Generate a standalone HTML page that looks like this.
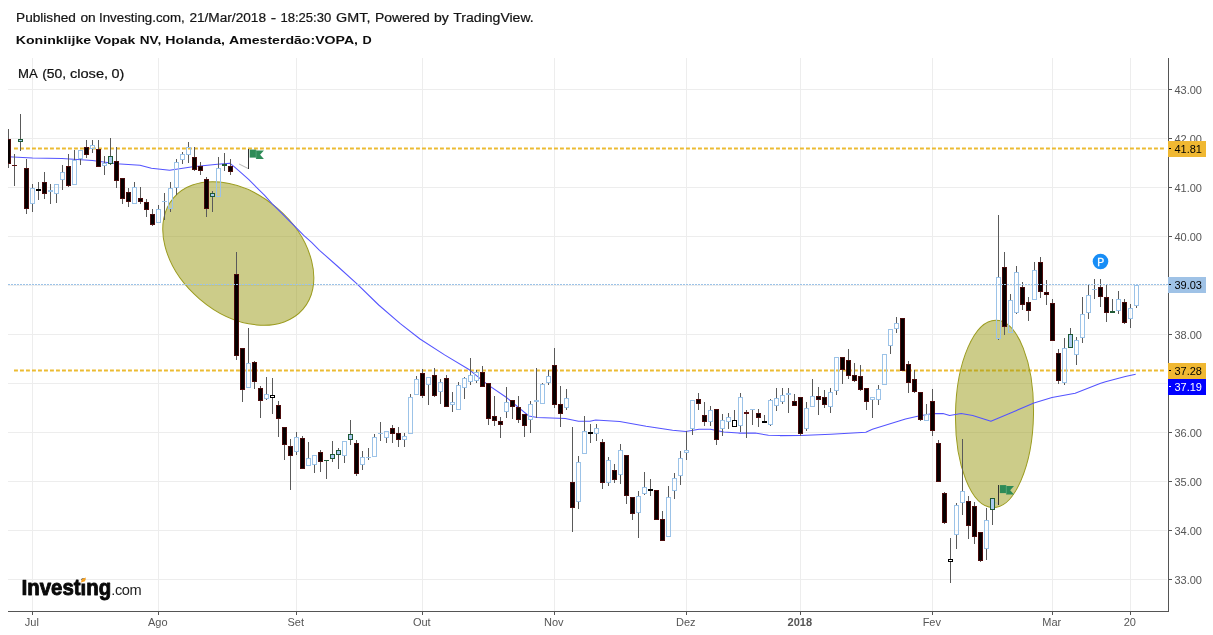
<!DOCTYPE html>
<html lang="pt"><head><meta charset="utf-8"><title>Koninklijke Vopak NV, Holanda, Amesterdão:VOPA, D</title>
<style>
html,body{margin:0;padding:0;background:#fff;}
body{width:1213px;height:635px;overflow:hidden;position:relative;}
svg{position:absolute;left:0;top:0;display:block;}
text{font-family:"Liberation Sans",Arial,Helvetica,sans-serif;}
.ax{font-size:11px;fill:#555555;}
.tag{font-size:11px;}
.h1{font-size:12.3px;fill:#141414;stroke:#141414;stroke-width:0.2px;}
.h2{font-size:11.6px;font-weight:bold;fill:#0c0c0c;}
.ma{font-size:12px;fill:#111;stroke:#111;stroke-width:0.2px;}
.crisp{shape-rendering:crispEdges;}
</style></head><body>
<svg width="1213" height="635" viewBox="0 0 1213 635">
<rect width="1213" height="635" fill="#fff"/>
<defs><clipPath id="pane"><rect x="8" y="58" width="1160" height="553"/></clipPath></defs>
<g class="crisp" stroke="#ededed" stroke-width="1" fill="none">
<line x1="8" y1="579.5" x2="1167" y2="579.5"/>
<line x1="8" y1="530.5" x2="1167" y2="530.5"/>
<line x1="8" y1="481.5" x2="1167" y2="481.5"/>
<line x1="8" y1="432.5" x2="1167" y2="432.5"/>
<line x1="8" y1="383.5" x2="1167" y2="383.5"/>
<line x1="8" y1="334.5" x2="1167" y2="334.5"/>
<line x1="8" y1="285.5" x2="1167" y2="285.5"/>
<line x1="8" y1="236.5" x2="1167" y2="236.5"/>
<line x1="8" y1="187.5" x2="1167" y2="187.5"/>
<line x1="8" y1="138.5" x2="1167" y2="138.5"/>
<line x1="8" y1="89.5" x2="1167" y2="89.5"/>
<line x1="32.5" y1="58" x2="32.5" y2="611"/>
<line x1="158.5" y1="58" x2="158.5" y2="611"/>
<line x1="296.5" y1="58" x2="296.5" y2="611"/>
<line x1="422.5" y1="58" x2="422.5" y2="611"/>
<line x1="554.5" y1="58" x2="554.5" y2="611"/>
<line x1="686.5" y1="58" x2="686.5" y2="611"/>
<line x1="800.5" y1="58" x2="800.5" y2="611"/>
<line x1="932.5" y1="58" x2="932.5" y2="611"/>
<line x1="1052.5" y1="58" x2="1052.5" y2="611"/>
<line x1="1130.5" y1="58" x2="1130.5" y2="611"/>
</g>
<g fill="none" stroke="#ecbb32" stroke-width="2" stroke-dasharray="3.9 2.1">
<line x1="14" y1="148.5" x2="1166" y2="148.5"/>
<line x1="14" y1="370.5" x2="1166" y2="370.5"/>
</g>
<g clip-path="url(#pane)">
<ellipse cx="238.3" cy="253.5" rx="85.4" ry="59.7" transform="rotate(40.7 238.3 253.5)" fill="rgba(153,153,20,0.5)" stroke="#9b9b1e" stroke-width="1"/>
<ellipse cx="994.5" cy="413.9" rx="39" ry="93.7" transform="rotate(1 994.5 413.9)" fill="rgba(153,153,20,0.5)" stroke="#9b9b1e" stroke-width="1"/>
<polyline points="8.0,156.8 32.5,158.0 62.0,158.4 92.5,160.4 116.5,163.7 140.0,165.2 151.4,168.3 169.6,170.2 192.7,166.7 217.5,164.2 229.7,163.2 234.4,166.8 240.7,172.3 248.6,179.4 256.5,187.3 264.4,195.2 272.2,203.8 280.1,211.7 288.0,219.6 295.9,227.4 303.7,235.3 311.6,242.4 319.5,250.3 337.8,266.5 357.0,283.8 378.7,305.0 400.0,323.4 420.0,339.0 444.6,354.9 469.4,369.8 487.6,384.6 505.8,397.0 519.0,407.8 528.9,416.0 537.2,417.4 565.3,418.5 578.5,421.3 590.0,421.3 595.7,420.1 619.7,421.4 646.1,426.2 672.6,430.3 685.8,431.5 699.0,429.2 710.6,429.2 723.8,432.0 738.7,433.1 755.2,433.1 768.4,435.3 780.0,435.6 800.5,435.5 831.0,434.2 865.8,432.2 872.4,429.3 905.5,419.0 918.7,416.0 933.0,413.6 943.0,413.6 949.6,415.5 961.2,413.6 972.7,415.5 990.9,421.3 1012.4,412.2 1033.9,403.1 1052.0,397.4 1075.2,393.2 1100.0,383.6 1105.5,381.7 1125.3,376.4 1135.7,374.3" fill="none" stroke="#5454ff" stroke-width="1.05" stroke-linejoin="round"/>
<line x1="239.1" y1="164.0" x2="248.1" y2="168.5" stroke="#b5b5b5" stroke-width="1"/>
<line x1="989.2" y1="499.5" x2="998.2" y2="504.0" stroke="#b5b5b5" stroke-width="1"/>
<g class="crisp">
<rect x="8" y="129" width="1" height="39" fill="#5a5a5a"/>
<rect x="6" y="139" width="5" height="25" fill="#4a0b0b"/>
<rect x="7" y="140" width="3" height="23" fill="#050000"/>
<rect x="14" y="154" width="1" height="32" fill="#5a5a5a"/>
<rect x="12" y="165" width="5" height="1" fill="#5a1010"/>
<rect x="20" y="114" width="1" height="25" fill="#5a5a5a"/>
<rect x="20" y="142" width="1" height="9" fill="#5a5a5a"/>
<rect x="18.5" y="139.5" width="4" height="2" fill="#a9c9ef" stroke="#1f5a36" stroke-width="1"/>
<rect x="26" y="159" width="1" height="55" fill="#5a5a5a"/>
<rect x="24" y="168" width="5" height="41" fill="#4a0b0b"/>
<rect x="25" y="169" width="3" height="39" fill="#050000"/>
<rect x="32" y="184" width="1" height="4" fill="#5a5a5a"/>
<rect x="32" y="204" width="1" height="8" fill="#5a5a5a"/>
<rect x="30.5" y="188.5" width="4" height="15" fill="none" stroke="#9cc3e8" stroke-width="1"/>
<rect x="38" y="182" width="1" height="18" fill="#5a5a5a"/>
<rect x="36" y="189" width="5" height="2" fill="#000"/>
<rect x="44" y="172" width="1" height="27" fill="#5a5a5a"/>
<rect x="42" y="182" width="5" height="12" fill="#4a0b0b"/>
<rect x="43" y="183" width="3" height="10" fill="#050000"/>
<rect x="50" y="184" width="1" height="20" fill="#5a5a5a"/>
<rect x="48" y="190" width="5" height="2" fill="#9cc3e8"/>
<rect x="56" y="194" width="1" height="9" fill="#5a5a5a"/>
<rect x="54.5" y="184.5" width="4" height="9" fill="none" stroke="#9cc3e8" stroke-width="1"/>
<rect x="62" y="165" width="1" height="7" fill="#5a5a5a"/>
<rect x="62" y="180" width="1" height="10" fill="#5a5a5a"/>
<rect x="60.5" y="172.5" width="4" height="7" fill="none" stroke="#9cc3e8" stroke-width="1"/>
<rect x="68" y="154" width="1" height="33" fill="#5a5a5a"/>
<rect x="66" y="166" width="5" height="20" fill="#4a0b0b"/>
<rect x="67" y="167" width="3" height="18" fill="#050000"/>
<rect x="74" y="150" width="1" height="10" fill="#5a5a5a"/>
<rect x="72.5" y="160.5" width="4" height="24" fill="none" stroke="#9cc3e8" stroke-width="1"/>
<rect x="80" y="159" width="1" height="6" fill="#5a5a5a"/>
<rect x="78.5" y="150.5" width="4" height="8" fill="none" stroke="#9cc3e8" stroke-width="1"/>
<rect x="86" y="140" width="1" height="18" fill="#5a5a5a"/>
<rect x="84" y="147" width="5" height="8" fill="#4a0b0b"/>
<rect x="85" y="148" width="3" height="6" fill="#050000"/>
<rect x="92" y="140" width="1" height="5" fill="#5a5a5a"/>
<rect x="92" y="149" width="1" height="4" fill="#5a5a5a"/>
<rect x="90.5" y="145.5" width="4" height="3" fill="none" stroke="#9cc3e8" stroke-width="1"/>
<rect x="98" y="140" width="1" height="27" fill="#5a5a5a"/>
<rect x="96" y="149" width="5" height="18" fill="#4a0b0b"/>
<rect x="97" y="150" width="3" height="16" fill="#050000"/>
<rect x="104" y="156" width="1" height="7" fill="#5a5a5a"/>
<rect x="104" y="166" width="1" height="9" fill="#5a5a5a"/>
<rect x="102.5" y="163.5" width="4" height="2" fill="none" stroke="#9cc3e8" stroke-width="1"/>
<rect x="110" y="138" width="1" height="18" fill="#5a5a5a"/>
<rect x="110" y="164" width="1" height="1" fill="#5a5a5a"/>
<rect x="108.5" y="156.5" width="4" height="7" fill="#a9c9ef" stroke="#1f5a36" stroke-width="1"/>
<rect x="116" y="147" width="1" height="41" fill="#5a5a5a"/>
<rect x="114" y="161" width="5" height="20" fill="#4a0b0b"/>
<rect x="115" y="162" width="3" height="18" fill="#050000"/>
<rect x="122" y="178" width="1" height="26" fill="#5a5a5a"/>
<rect x="120" y="178" width="5" height="21" fill="#4a0b0b"/>
<rect x="121" y="179" width="3" height="19" fill="#050000"/>
<rect x="128" y="188" width="1" height="19" fill="#5a5a5a"/>
<rect x="126" y="192" width="5" height="10" fill="#4a0b0b"/>
<rect x="127" y="193" width="3" height="8" fill="#050000"/>
<rect x="134" y="182" width="1" height="5" fill="#5a5a5a"/>
<rect x="132.5" y="187.5" width="4" height="16" fill="none" stroke="#9cc3e8" stroke-width="1"/>
<rect x="140" y="187" width="1" height="17" fill="#5a5a5a"/>
<rect x="138" y="198" width="5" height="4" fill="#4a0b0b"/>
<rect x="139" y="199" width="3" height="2" fill="#050000"/>
<rect x="146" y="199" width="1" height="18" fill="#5a5a5a"/>
<rect x="144" y="202" width="5" height="8" fill="#4a0b0b"/>
<rect x="145" y="203" width="3" height="6" fill="#050000"/>
<rect x="152" y="209" width="1" height="17" fill="#5a5a5a"/>
<rect x="150" y="214" width="5" height="11" fill="#4a0b0b"/>
<rect x="151" y="215" width="3" height="9" fill="#050000"/>
<rect x="158" y="205" width="1" height="4" fill="#5a5a5a"/>
<rect x="156.5" y="209.5" width="4" height="13" fill="none" stroke="#9cc3e8" stroke-width="1"/>
<rect x="164" y="193" width="1" height="27" fill="#5a5a5a"/>
<rect x="162" y="201" width="5" height="1" fill="#9cc3e8"/>
<rect x="170" y="182" width="1" height="6" fill="#5a5a5a"/>
<rect x="170" y="209" width="1" height="3" fill="#5a5a5a"/>
<rect x="168.5" y="188.5" width="4" height="20" fill="none" stroke="#9cc3e8" stroke-width="1"/>
<rect x="176" y="159" width="1" height="3" fill="#5a5a5a"/>
<rect x="176" y="188" width="1" height="7" fill="#5a5a5a"/>
<rect x="174.5" y="162.5" width="4" height="25" fill="none" stroke="#9cc3e8" stroke-width="1"/>
<rect x="182" y="152" width="1" height="2" fill="#5a5a5a"/>
<rect x="182" y="160" width="1" height="4" fill="#5a5a5a"/>
<rect x="180.5" y="154.5" width="4" height="5" fill="none" stroke="#9cc3e8" stroke-width="1"/>
<rect x="188" y="142" width="1" height="5" fill="#5a5a5a"/>
<rect x="188" y="155" width="1" height="8" fill="#5a5a5a"/>
<rect x="186.5" y="147.5" width="4" height="7" fill="none" stroke="#9cc3e8" stroke-width="1"/>
<rect x="194" y="147" width="1" height="24" fill="#5a5a5a"/>
<rect x="192" y="157" width="5" height="13" fill="#4a0b0b"/>
<rect x="193" y="158" width="3" height="11" fill="#050000"/>
<rect x="200" y="162" width="1" height="13" fill="#5a5a5a"/>
<rect x="198" y="166" width="5" height="5" fill="#4a0b0b"/>
<rect x="199" y="167" width="3" height="3" fill="#050000"/>
<rect x="206" y="177" width="1" height="40" fill="#5a5a5a"/>
<rect x="204" y="179" width="5" height="30" fill="#4a0b0b"/>
<rect x="205" y="180" width="3" height="28" fill="#050000"/>
<rect x="212" y="191" width="1" height="2" fill="#5a5a5a"/>
<rect x="212" y="197" width="1" height="15" fill="#5a5a5a"/>
<rect x="210.5" y="193.5" width="4" height="3" fill="#a9c9ef" stroke="#1f5a36" stroke-width="1"/>
<rect x="218" y="157" width="1" height="11" fill="#5a5a5a"/>
<rect x="216.5" y="168.5" width="4" height="28" fill="none" stroke="#9cc3e8" stroke-width="1"/>
<rect x="224" y="153" width="1" height="18" fill="#5a5a5a"/>
<rect x="222" y="164" width="5" height="2" fill="#1f5a36"/>
<rect x="230" y="159" width="1" height="16" fill="#5a5a5a"/>
<rect x="228" y="166" width="5" height="6" fill="#4a0b0b"/>
<rect x="229" y="167" width="3" height="4" fill="#050000"/>
<rect x="236" y="252" width="1" height="108" fill="#5a5a5a"/>
<rect x="234" y="274" width="5" height="82" fill="#4a0b0b"/>
<rect x="235" y="275" width="3" height="80" fill="#050000"/>
<rect x="242" y="348" width="1" height="54" fill="#5a5a5a"/>
<rect x="240" y="348" width="5" height="42" fill="#4a0b0b"/>
<rect x="241" y="349" width="3" height="40" fill="#050000"/>
<rect x="248" y="328" width="1" height="35" fill="#5a5a5a"/>
<rect x="246.5" y="363.5" width="4" height="24" fill="none" stroke="#9cc3e8" stroke-width="1"/>
<rect x="254" y="361" width="1" height="28" fill="#5a5a5a"/>
<rect x="252" y="362" width="5" height="20" fill="#4a0b0b"/>
<rect x="253" y="363" width="3" height="18" fill="#050000"/>
<rect x="260" y="386" width="1" height="32" fill="#5a5a5a"/>
<rect x="258" y="388" width="5" height="13" fill="#4a0b0b"/>
<rect x="259" y="389" width="3" height="11" fill="#050000"/>
<rect x="266" y="377" width="1" height="17" fill="#5a5a5a"/>
<rect x="266" y="399" width="1" height="1" fill="#5a5a5a"/>
<rect x="264.5" y="394.5" width="4" height="4" fill="none" stroke="#9cc3e8" stroke-width="1"/>
<rect x="272" y="378" width="1" height="17" fill="#5a5a5a"/>
<rect x="272" y="398" width="1" height="16" fill="#5a5a5a"/>
<rect x="270.5" y="395.5" width="4" height="2" fill="#fff" stroke="#000" stroke-width="1"/>
<rect x="278" y="401" width="1" height="36" fill="#5a5a5a"/>
<rect x="276" y="405" width="5" height="14" fill="#4a0b0b"/>
<rect x="277" y="406" width="3" height="12" fill="#050000"/>
<rect x="284" y="427" width="1" height="33" fill="#5a5a5a"/>
<rect x="282" y="427" width="5" height="18" fill="#4a0b0b"/>
<rect x="283" y="428" width="3" height="16" fill="#050000"/>
<rect x="290" y="439" width="1" height="51" fill="#5a5a5a"/>
<rect x="288" y="446" width="5" height="10" fill="#4a0b0b"/>
<rect x="289" y="447" width="3" height="8" fill="#050000"/>
<rect x="296" y="432" width="1" height="5" fill="#5a5a5a"/>
<rect x="296" y="452" width="1" height="3" fill="#5a5a5a"/>
<rect x="294.5" y="437.5" width="4" height="14" fill="none" stroke="#9cc3e8" stroke-width="1"/>
<rect x="302" y="436" width="1" height="33" fill="#5a5a5a"/>
<rect x="300" y="438" width="5" height="31" fill="#4a0b0b"/>
<rect x="301" y="439" width="3" height="29" fill="#050000"/>
<rect x="308" y="442" width="1" height="16" fill="#5a5a5a"/>
<rect x="306.5" y="458.5" width="4" height="7" fill="none" stroke="#9cc3e8" stroke-width="1"/>
<rect x="314" y="465" width="1" height="8" fill="#5a5a5a"/>
<rect x="312.5" y="455.5" width="4" height="9" fill="none" stroke="#9cc3e8" stroke-width="1"/>
<rect x="320" y="450" width="1" height="22" fill="#5a5a5a"/>
<rect x="318" y="452" width="5" height="10" fill="#4a0b0b"/>
<rect x="319" y="453" width="3" height="8" fill="#050000"/>
<rect x="326" y="460" width="1" height="19" fill="#5a5a5a"/>
<rect x="324" y="460" width="5" height="1" fill="#1f5a36"/>
<rect x="332" y="441" width="1" height="13" fill="#5a5a5a"/>
<rect x="332" y="459" width="1" height="3" fill="#5a5a5a"/>
<rect x="330.5" y="454.5" width="4" height="4" fill="#a9c9ef" stroke="#1f5a36" stroke-width="1"/>
<rect x="338" y="448" width="1" height="2" fill="#5a5a5a"/>
<rect x="338" y="455" width="1" height="14" fill="#5a5a5a"/>
<rect x="336.5" y="450.5" width="4" height="4" fill="#a9c9ef" stroke="#1f5a36" stroke-width="1"/>
<rect x="344" y="456" width="1" height="7" fill="#5a5a5a"/>
<rect x="342.5" y="441.5" width="4" height="14" fill="none" stroke="#9cc3e8" stroke-width="1"/>
<rect x="350" y="420" width="1" height="14" fill="#5a5a5a"/>
<rect x="350" y="440" width="1" height="5" fill="#5a5a5a"/>
<rect x="348.5" y="434.5" width="4" height="5" fill="#a9c9ef" stroke="#1f5a36" stroke-width="1"/>
<rect x="356" y="440" width="1" height="36" fill="#5a5a5a"/>
<rect x="354" y="443" width="5" height="31" fill="#4a0b0b"/>
<rect x="355" y="444" width="3" height="29" fill="#050000"/>
<rect x="362" y="451" width="1" height="6" fill="#5a5a5a"/>
<rect x="362" y="465" width="1" height="5" fill="#5a5a5a"/>
<rect x="360.5" y="457.5" width="4" height="7" fill="none" stroke="#9cc3e8" stroke-width="1"/>
<rect x="368" y="448" width="1" height="12" fill="#5a5a5a"/>
<rect x="366" y="457" width="5" height="1" fill="#9cc3e8"/>
<rect x="374" y="434" width="1" height="3" fill="#5a5a5a"/>
<rect x="372.5" y="437.5" width="4" height="19" fill="none" stroke="#9cc3e8" stroke-width="1"/>
<rect x="380" y="422" width="1" height="19" fill="#5a5a5a"/>
<rect x="378" y="433" width="5" height="1" fill="#9cc3e8"/>
<rect x="386" y="438" width="1" height="5" fill="#5a5a5a"/>
<rect x="384.5" y="431.5" width="4" height="6" fill="none" stroke="#9cc3e8" stroke-width="1"/>
<rect x="392" y="425" width="1" height="18" fill="#5a5a5a"/>
<rect x="390" y="428" width="5" height="6" fill="#4a0b0b"/>
<rect x="391" y="429" width="3" height="4" fill="#050000"/>
<rect x="398" y="427" width="1" height="20" fill="#5a5a5a"/>
<rect x="396" y="433" width="5" height="7" fill="#4a0b0b"/>
<rect x="397" y="434" width="3" height="5" fill="#050000"/>
<rect x="404" y="433" width="1" height="3" fill="#5a5a5a"/>
<rect x="404" y="440" width="1" height="7" fill="#5a5a5a"/>
<rect x="402.5" y="436.5" width="4" height="3" fill="none" stroke="#9cc3e8" stroke-width="1"/>
<rect x="410" y="394" width="1" height="3" fill="#5a5a5a"/>
<rect x="408.5" y="397.5" width="4" height="36" fill="none" stroke="#9cc3e8" stroke-width="1"/>
<rect x="416" y="376" width="1" height="3" fill="#5a5a5a"/>
<rect x="414.5" y="379.5" width="4" height="15" fill="none" stroke="#9cc3e8" stroke-width="1"/>
<rect x="422" y="369" width="1" height="29" fill="#5a5a5a"/>
<rect x="420" y="373" width="5" height="23" fill="#4a0b0b"/>
<rect x="421" y="374" width="3" height="21" fill="#050000"/>
<rect x="428" y="385" width="1" height="20" fill="#5a5a5a"/>
<rect x="426.5" y="377.5" width="4" height="7" fill="none" stroke="#9cc3e8" stroke-width="1"/>
<rect x="434" y="368" width="1" height="29" fill="#5a5a5a"/>
<rect x="432" y="375" width="5" height="21" fill="#4a0b0b"/>
<rect x="433" y="376" width="3" height="19" fill="#050000"/>
<rect x="440" y="379" width="1" height="3" fill="#5a5a5a"/>
<rect x="440" y="392" width="1" height="12" fill="#5a5a5a"/>
<rect x="438.5" y="382.5" width="4" height="9" fill="none" stroke="#9cc3e8" stroke-width="1"/>
<rect x="446" y="375" width="1" height="32" fill="#5a5a5a"/>
<rect x="444" y="378" width="5" height="29" fill="#4a0b0b"/>
<rect x="445" y="379" width="3" height="27" fill="#050000"/>
<rect x="452" y="392" width="1" height="10" fill="#5a5a5a"/>
<rect x="452" y="405" width="1" height="7" fill="#5a5a5a"/>
<rect x="450.5" y="402.5" width="4" height="2" fill="none" stroke="#9cc3e8" stroke-width="1"/>
<rect x="458" y="382" width="1" height="3" fill="#5a5a5a"/>
<rect x="456.5" y="385.5" width="4" height="24" fill="none" stroke="#9cc3e8" stroke-width="1"/>
<rect x="464" y="377" width="1" height="1" fill="#5a5a5a"/>
<rect x="464" y="388" width="1" height="11" fill="#5a5a5a"/>
<rect x="462.5" y="378.5" width="4" height="9" fill="none" stroke="#9cc3e8" stroke-width="1"/>
<rect x="470" y="358" width="1" height="17" fill="#5a5a5a"/>
<rect x="470" y="382" width="1" height="3" fill="#5a5a5a"/>
<rect x="468.5" y="375.5" width="4" height="6" fill="none" stroke="#9cc3e8" stroke-width="1"/>
<rect x="476" y="370" width="1" height="2" fill="#5a5a5a"/>
<rect x="476" y="381" width="1" height="2" fill="#5a5a5a"/>
<rect x="474.5" y="372.5" width="4" height="8" fill="none" stroke="#9cc3e8" stroke-width="1"/>
<rect x="482" y="366" width="1" height="21" fill="#5a5a5a"/>
<rect x="480" y="372" width="5" height="15" fill="#4a0b0b"/>
<rect x="481" y="373" width="3" height="13" fill="#050000"/>
<rect x="488" y="383" width="1" height="42" fill="#5a5a5a"/>
<rect x="486" y="383" width="5" height="36" fill="#4a0b0b"/>
<rect x="487" y="384" width="3" height="34" fill="#050000"/>
<rect x="494" y="396" width="1" height="30" fill="#5a5a5a"/>
<rect x="492" y="416" width="5" height="5" fill="#4a0b0b"/>
<rect x="493" y="417" width="3" height="3" fill="#050000"/>
<rect x="500" y="417" width="1" height="21" fill="#5a5a5a"/>
<rect x="498" y="421" width="5" height="4" fill="#4a0b0b"/>
<rect x="499" y="422" width="3" height="2" fill="#050000"/>
<rect x="506" y="387" width="1" height="15" fill="#5a5a5a"/>
<rect x="506" y="412" width="1" height="6" fill="#5a5a5a"/>
<rect x="504.5" y="402.5" width="4" height="9" fill="none" stroke="#9cc3e8" stroke-width="1"/>
<rect x="512" y="400" width="1" height="19" fill="#5a5a5a"/>
<rect x="510" y="400" width="5" height="7" fill="#4a0b0b"/>
<rect x="511" y="401" width="3" height="5" fill="#050000"/>
<rect x="518" y="396" width="1" height="27" fill="#5a5a5a"/>
<rect x="516" y="407" width="5" height="13" fill="#4a0b0b"/>
<rect x="517" y="408" width="3" height="11" fill="#050000"/>
<rect x="524" y="414" width="1" height="23" fill="#5a5a5a"/>
<rect x="522" y="414" width="5" height="12" fill="#4a0b0b"/>
<rect x="523" y="415" width="3" height="10" fill="#050000"/>
<rect x="530" y="401" width="1" height="3" fill="#5a5a5a"/>
<rect x="530" y="420" width="1" height="13" fill="#5a5a5a"/>
<rect x="528.5" y="404.5" width="4" height="15" fill="none" stroke="#9cc3e8" stroke-width="1"/>
<rect x="536" y="368" width="1" height="50" fill="#5a5a5a"/>
<rect x="534" y="400" width="5" height="2" fill="#9cc3e8"/>
<rect x="542" y="383" width="1" height="1" fill="#5a5a5a"/>
<rect x="540.5" y="384.5" width="4" height="19" fill="none" stroke="#9cc3e8" stroke-width="1"/>
<rect x="548" y="370" width="1" height="6" fill="#5a5a5a"/>
<rect x="548" y="383" width="1" height="2" fill="#5a5a5a"/>
<rect x="546.5" y="376.5" width="4" height="6" fill="none" stroke="#9cc3e8" stroke-width="1"/>
<rect x="554" y="348" width="1" height="60" fill="#5a5a5a"/>
<rect x="552" y="365" width="5" height="40" fill="#4a0b0b"/>
<rect x="553" y="366" width="3" height="38" fill="#050000"/>
<rect x="560" y="386" width="1" height="41" fill="#5a5a5a"/>
<rect x="558" y="404" width="5" height="10" fill="#4a0b0b"/>
<rect x="559" y="405" width="3" height="8" fill="#050000"/>
<rect x="566" y="389" width="1" height="9" fill="#5a5a5a"/>
<rect x="566" y="408" width="1" height="2" fill="#5a5a5a"/>
<rect x="564.5" y="398.5" width="4" height="9" fill="none" stroke="#9cc3e8" stroke-width="1"/>
<rect x="572" y="427" width="1" height="105" fill="#5a5a5a"/>
<rect x="570" y="482" width="5" height="26" fill="#4a0b0b"/>
<rect x="571" y="483" width="3" height="24" fill="#050000"/>
<rect x="578" y="456" width="1" height="6" fill="#5a5a5a"/>
<rect x="578" y="502" width="1" height="7" fill="#5a5a5a"/>
<rect x="576.5" y="462.5" width="4" height="39" fill="none" stroke="#9cc3e8" stroke-width="1"/>
<rect x="584" y="416" width="1" height="15" fill="#5a5a5a"/>
<rect x="582.5" y="431.5" width="4" height="22" fill="none" stroke="#9cc3e8" stroke-width="1"/>
<rect x="590" y="424" width="1" height="19" fill="#5a5a5a"/>
<rect x="588" y="432" width="5" height="2" fill="#000"/>
<rect x="596" y="424" width="1" height="4" fill="#5a5a5a"/>
<rect x="596" y="434" width="1" height="7" fill="#5a5a5a"/>
<rect x="594.5" y="428.5" width="4" height="5" fill="none" stroke="#9cc3e8" stroke-width="1"/>
<rect x="602" y="439" width="1" height="50" fill="#5a5a5a"/>
<rect x="600" y="442" width="5" height="41" fill="#4a0b0b"/>
<rect x="601" y="443" width="3" height="39" fill="#050000"/>
<rect x="608" y="457" width="1" height="3" fill="#5a5a5a"/>
<rect x="608" y="483" width="1" height="3" fill="#5a5a5a"/>
<rect x="606.5" y="460.5" width="4" height="22" fill="none" stroke="#9cc3e8" stroke-width="1"/>
<rect x="614" y="464" width="1" height="19" fill="#5a5a5a"/>
<rect x="612" y="470" width="5" height="10" fill="#4a0b0b"/>
<rect x="613" y="471" width="3" height="8" fill="#050000"/>
<rect x="620" y="444" width="1" height="6" fill="#5a5a5a"/>
<rect x="620" y="475" width="1" height="9" fill="#5a5a5a"/>
<rect x="618.5" y="450.5" width="4" height="24" fill="none" stroke="#9cc3e8" stroke-width="1"/>
<rect x="626" y="455" width="1" height="49" fill="#5a5a5a"/>
<rect x="624" y="455" width="5" height="41" fill="#4a0b0b"/>
<rect x="625" y="456" width="3" height="39" fill="#050000"/>
<rect x="632" y="497" width="1" height="23" fill="#5a5a5a"/>
<rect x="630" y="497" width="5" height="17" fill="#4a0b0b"/>
<rect x="631" y="498" width="3" height="15" fill="#050000"/>
<rect x="638" y="491" width="1" height="5" fill="#5a5a5a"/>
<rect x="638" y="513" width="1" height="25" fill="#5a5a5a"/>
<rect x="636.5" y="496.5" width="4" height="16" fill="none" stroke="#9cc3e8" stroke-width="1"/>
<rect x="644" y="472" width="1" height="15" fill="#5a5a5a"/>
<rect x="644" y="494" width="1" height="1" fill="#5a5a5a"/>
<rect x="642.5" y="487.5" width="4" height="6" fill="none" stroke="#9cc3e8" stroke-width="1"/>
<rect x="650" y="479" width="1" height="17" fill="#5a5a5a"/>
<rect x="648" y="489" width="5" height="2" fill="#000"/>
<rect x="656" y="490" width="1" height="30" fill="#5a5a5a"/>
<rect x="654" y="490" width="5" height="30" fill="#4a0b0b"/>
<rect x="655" y="491" width="3" height="28" fill="#050000"/>
<rect x="662" y="511" width="1" height="30" fill="#5a5a5a"/>
<rect x="660" y="519" width="5" height="22" fill="#4a0b0b"/>
<rect x="661" y="520" width="3" height="20" fill="#050000"/>
<rect x="668" y="486" width="1" height="11" fill="#5a5a5a"/>
<rect x="666.5" y="497.5" width="4" height="39" fill="none" stroke="#9cc3e8" stroke-width="1"/>
<rect x="674" y="473" width="1" height="5" fill="#5a5a5a"/>
<rect x="674" y="491" width="1" height="8" fill="#5a5a5a"/>
<rect x="672.5" y="478.5" width="4" height="12" fill="none" stroke="#9cc3e8" stroke-width="1"/>
<rect x="680" y="451" width="1" height="7" fill="#5a5a5a"/>
<rect x="680" y="476" width="1" height="9" fill="#5a5a5a"/>
<rect x="678.5" y="458.5" width="4" height="17" fill="none" stroke="#9cc3e8" stroke-width="1"/>
<rect x="686" y="431" width="1" height="19" fill="#5a5a5a"/>
<rect x="686" y="453" width="1" height="7" fill="#5a5a5a"/>
<rect x="684.5" y="450.5" width="4" height="2" fill="none" stroke="#9cc3e8" stroke-width="1"/>
<rect x="692" y="429" width="1" height="6" fill="#5a5a5a"/>
<rect x="690.5" y="400.5" width="4" height="28" fill="none" stroke="#9cc3e8" stroke-width="1"/>
<rect x="698" y="393" width="1" height="17" fill="#5a5a5a"/>
<rect x="696" y="399" width="5" height="5" fill="#4a0b0b"/>
<rect x="697" y="400" width="3" height="3" fill="#050000"/>
<rect x="704" y="402" width="1" height="24" fill="#5a5a5a"/>
<rect x="702" y="415" width="5" height="7" fill="#4a0b0b"/>
<rect x="703" y="416" width="3" height="5" fill="#050000"/>
<rect x="710" y="406" width="1" height="4" fill="#5a5a5a"/>
<rect x="710" y="422" width="1" height="4" fill="#5a5a5a"/>
<rect x="708.5" y="410.5" width="4" height="11" fill="none" stroke="#9cc3e8" stroke-width="1"/>
<rect x="716" y="409" width="1" height="36" fill="#5a5a5a"/>
<rect x="714" y="409" width="5" height="31" fill="#4a0b0b"/>
<rect x="715" y="410" width="3" height="29" fill="#050000"/>
<rect x="722" y="414" width="1" height="6" fill="#5a5a5a"/>
<rect x="722" y="429" width="1" height="7" fill="#5a5a5a"/>
<rect x="720.5" y="420.5" width="4" height="8" fill="none" stroke="#9cc3e8" stroke-width="1"/>
<rect x="728" y="413" width="1" height="4" fill="#5a5a5a"/>
<rect x="728" y="422" width="1" height="7" fill="#5a5a5a"/>
<rect x="726.5" y="417.5" width="4" height="4" fill="none" stroke="#9cc3e8" stroke-width="1"/>
<rect x="734" y="410" width="1" height="10" fill="#5a5a5a"/>
<rect x="732.5" y="420.5" width="4" height="6" fill="#fff" stroke="#000" stroke-width="1"/>
<rect x="740" y="393" width="1" height="4" fill="#5a5a5a"/>
<rect x="740" y="426" width="1" height="6" fill="#5a5a5a"/>
<rect x="738.5" y="397.5" width="4" height="28" fill="none" stroke="#9cc3e8" stroke-width="1"/>
<rect x="746" y="410" width="1" height="28" fill="#5a5a5a"/>
<rect x="744" y="412" width="5" height="2" fill="#5a1010"/>
<rect x="752" y="409" width="1" height="16" fill="#5a5a5a"/>
<rect x="750" y="409" width="5" height="1" fill="#9cc3e8"/>
<rect x="758" y="409" width="1" height="18" fill="#5a5a5a"/>
<rect x="756" y="413" width="5" height="5" fill="#4a0b0b"/>
<rect x="757" y="414" width="3" height="3" fill="#050000"/>
<rect x="764" y="415" width="1" height="8" fill="#5a5a5a"/>
<rect x="762" y="421" width="5" height="2" fill="#000"/>
<rect x="770" y="399" width="1" height="1" fill="#5a5a5a"/>
<rect x="770" y="425" width="1" height="1" fill="#5a5a5a"/>
<rect x="768.5" y="400.5" width="4" height="24" fill="none" stroke="#9cc3e8" stroke-width="1"/>
<rect x="776" y="388" width="1" height="10" fill="#5a5a5a"/>
<rect x="776" y="406" width="1" height="5" fill="#5a5a5a"/>
<rect x="774.5" y="398.5" width="4" height="7" fill="none" stroke="#9cc3e8" stroke-width="1"/>
<rect x="782" y="388" width="1" height="7" fill="#5a5a5a"/>
<rect x="782" y="402" width="1" height="2" fill="#5a5a5a"/>
<rect x="780.5" y="395.5" width="4" height="6" fill="none" stroke="#9cc3e8" stroke-width="1"/>
<rect x="788" y="388" width="1" height="25" fill="#5a5a5a"/>
<rect x="786" y="393" width="5" height="2" fill="#9cc3e8"/>
<rect x="794" y="394" width="1" height="12" fill="#5a5a5a"/>
<rect x="792" y="401" width="5" height="5" fill="#4a0b0b"/>
<rect x="793" y="402" width="3" height="3" fill="#050000"/>
<rect x="800" y="397" width="1" height="39" fill="#5a5a5a"/>
<rect x="798" y="397" width="5" height="37" fill="#4a0b0b"/>
<rect x="799" y="398" width="3" height="35" fill="#050000"/>
<rect x="806" y="402" width="1" height="6" fill="#5a5a5a"/>
<rect x="806" y="429" width="1" height="2" fill="#5a5a5a"/>
<rect x="804.5" y="408.5" width="4" height="20" fill="none" stroke="#9cc3e8" stroke-width="1"/>
<rect x="812" y="379" width="1" height="17" fill="#5a5a5a"/>
<rect x="810.5" y="396.5" width="4" height="10" fill="none" stroke="#9cc3e8" stroke-width="1"/>
<rect x="818" y="387" width="1" height="28" fill="#5a5a5a"/>
<rect x="816" y="396" width="5" height="4" fill="#4a0b0b"/>
<rect x="817" y="397" width="3" height="2" fill="#050000"/>
<rect x="824" y="390" width="1" height="18" fill="#5a5a5a"/>
<rect x="822" y="397" width="5" height="8" fill="#4a0b0b"/>
<rect x="823" y="398" width="3" height="6" fill="#050000"/>
<rect x="830" y="388" width="1" height="4" fill="#5a5a5a"/>
<rect x="830" y="407" width="1" height="6" fill="#5a5a5a"/>
<rect x="828.5" y="392.5" width="4" height="14" fill="none" stroke="#9cc3e8" stroke-width="1"/>
<rect x="836" y="391" width="1" height="4" fill="#5a5a5a"/>
<rect x="834.5" y="357.5" width="4" height="33" fill="none" stroke="#9cc3e8" stroke-width="1"/>
<rect x="842" y="357" width="1" height="27" fill="#5a5a5a"/>
<rect x="840" y="357" width="5" height="13" fill="#4a0b0b"/>
<rect x="841" y="358" width="3" height="11" fill="#050000"/>
<rect x="848" y="349" width="1" height="30" fill="#5a5a5a"/>
<rect x="846" y="360" width="5" height="16" fill="#4a0b0b"/>
<rect x="847" y="361" width="3" height="14" fill="#050000"/>
<rect x="854" y="363" width="1" height="19" fill="#5a5a5a"/>
<rect x="852" y="375" width="5" height="6" fill="#4a0b0b"/>
<rect x="853" y="376" width="3" height="4" fill="#050000"/>
<rect x="860" y="365" width="1" height="26" fill="#5a5a5a"/>
<rect x="858" y="376" width="5" height="14" fill="#4a0b0b"/>
<rect x="859" y="377" width="3" height="12" fill="#050000"/>
<rect x="866" y="388" width="1" height="22" fill="#5a5a5a"/>
<rect x="864" y="388" width="5" height="14" fill="#4a0b0b"/>
<rect x="865" y="389" width="3" height="12" fill="#050000"/>
<rect x="872" y="400" width="1" height="18" fill="#5a5a5a"/>
<rect x="870.5" y="397.5" width="4" height="2" fill="none" stroke="#9cc3e8" stroke-width="1"/>
<rect x="878" y="385" width="1" height="4" fill="#5a5a5a"/>
<rect x="878" y="400" width="1" height="5" fill="#5a5a5a"/>
<rect x="876.5" y="389.5" width="4" height="10" fill="none" stroke="#9cc3e8" stroke-width="1"/>
<rect x="882.5" y="354.5" width="4" height="30" fill="none" stroke="#9cc3e8" stroke-width="1"/>
<rect x="890" y="346" width="1" height="8" fill="#5a5a5a"/>
<rect x="888.5" y="329.5" width="4" height="16" fill="none" stroke="#9cc3e8" stroke-width="1"/>
<rect x="896" y="317" width="1" height="6" fill="#5a5a5a"/>
<rect x="896" y="329" width="1" height="4" fill="#5a5a5a"/>
<rect x="894.5" y="323.5" width="4" height="5" fill="none" stroke="#9cc3e8" stroke-width="1"/>
<rect x="902" y="318" width="1" height="53" fill="#5a5a5a"/>
<rect x="900" y="318" width="5" height="53" fill="#4a0b0b"/>
<rect x="901" y="319" width="3" height="51" fill="#050000"/>
<rect x="908" y="361" width="1" height="32" fill="#5a5a5a"/>
<rect x="906" y="364" width="5" height="19" fill="#4a0b0b"/>
<rect x="907" y="365" width="3" height="17" fill="#050000"/>
<rect x="914" y="370" width="1" height="23" fill="#5a5a5a"/>
<rect x="912" y="379" width="5" height="13" fill="#4a0b0b"/>
<rect x="913" y="380" width="3" height="11" fill="#050000"/>
<rect x="920" y="392" width="1" height="29" fill="#5a5a5a"/>
<rect x="918" y="392" width="5" height="28" fill="#4a0b0b"/>
<rect x="919" y="393" width="3" height="26" fill="#050000"/>
<rect x="926" y="404" width="1" height="10" fill="#5a5a5a"/>
<rect x="924.5" y="414.5" width="4" height="6" fill="none" stroke="#9cc3e8" stroke-width="1"/>
<rect x="932" y="389" width="1" height="47" fill="#5a5a5a"/>
<rect x="930" y="401" width="5" height="30" fill="#4a0b0b"/>
<rect x="931" y="402" width="3" height="28" fill="#050000"/>
<rect x="938" y="440" width="1" height="42" fill="#5a5a5a"/>
<rect x="936" y="443" width="5" height="39" fill="#4a0b0b"/>
<rect x="937" y="444" width="3" height="37" fill="#050000"/>
<rect x="944" y="492" width="1" height="32" fill="#5a5a5a"/>
<rect x="942" y="493" width="5" height="30" fill="#4a0b0b"/>
<rect x="943" y="494" width="3" height="28" fill="#050000"/>
<rect x="950" y="538" width="1" height="21" fill="#5a5a5a"/>
<rect x="950" y="562" width="1" height="21" fill="#5a5a5a"/>
<rect x="948.5" y="559.5" width="4" height="2" fill="#fff" stroke="#000" stroke-width="1"/>
<rect x="956" y="503" width="1" height="2" fill="#5a5a5a"/>
<rect x="956" y="535" width="1" height="14" fill="#5a5a5a"/>
<rect x="954.5" y="505.5" width="4" height="29" fill="none" stroke="#9cc3e8" stroke-width="1"/>
<rect x="962" y="439" width="1" height="52" fill="#5a5a5a"/>
<rect x="962" y="503" width="1" height="12" fill="#5a5a5a"/>
<rect x="960.5" y="491.5" width="4" height="11" fill="none" stroke="#9cc3e8" stroke-width="1"/>
<rect x="968" y="496" width="1" height="43" fill="#5a5a5a"/>
<rect x="966" y="501" width="5" height="25" fill="#4a0b0b"/>
<rect x="967" y="502" width="3" height="23" fill="#050000"/>
<rect x="974" y="502" width="1" height="42" fill="#5a5a5a"/>
<rect x="972" y="506" width="5" height="31" fill="#4a0b0b"/>
<rect x="973" y="507" width="3" height="29" fill="#050000"/>
<rect x="980" y="532" width="1" height="30" fill="#5a5a5a"/>
<rect x="978" y="532" width="5" height="29" fill="#4a0b0b"/>
<rect x="979" y="533" width="3" height="27" fill="#050000"/>
<rect x="986" y="508" width="1" height="12" fill="#5a5a5a"/>
<rect x="986" y="549" width="1" height="11" fill="#5a5a5a"/>
<rect x="984.5" y="520.5" width="4" height="28" fill="none" stroke="#9cc3e8" stroke-width="1"/>
<rect x="992" y="510" width="1" height="15" fill="#5a5a5a"/>
<rect x="990.5" y="498.5" width="4" height="11" fill="#a9c9ef" stroke="#1f5a36" stroke-width="1"/>
<rect x="998" y="215" width="1" height="62" fill="#5a5a5a"/>
<rect x="998" y="339" width="1" height="1" fill="#5a5a5a"/>
<rect x="996.5" y="277.5" width="4" height="61" fill="none" stroke="#9cc3e8" stroke-width="1"/>
<rect x="1004" y="252" width="1" height="83" fill="#5a5a5a"/>
<rect x="1002" y="267" width="5" height="60" fill="#4a0b0b"/>
<rect x="1003" y="268" width="3" height="58" fill="#050000"/>
<rect x="1010" y="294" width="1" height="6" fill="#5a5a5a"/>
<rect x="1008.5" y="300.5" width="4" height="32" fill="none" stroke="#9cc3e8" stroke-width="1"/>
<rect x="1016" y="266" width="1" height="6" fill="#5a5a5a"/>
<rect x="1016" y="313" width="1" height="1" fill="#5a5a5a"/>
<rect x="1014.5" y="272.5" width="4" height="40" fill="none" stroke="#9cc3e8" stroke-width="1"/>
<rect x="1022" y="282" width="1" height="28" fill="#5a5a5a"/>
<rect x="1020" y="287" width="5" height="18" fill="#4a0b0b"/>
<rect x="1021" y="288" width="3" height="16" fill="#050000"/>
<rect x="1028" y="297" width="1" height="24" fill="#5a5a5a"/>
<rect x="1026" y="302" width="5" height="9" fill="#4a0b0b"/>
<rect x="1027" y="303" width="3" height="7" fill="#050000"/>
<rect x="1034" y="262" width="1" height="8" fill="#5a5a5a"/>
<rect x="1032.5" y="270.5" width="4" height="29" fill="none" stroke="#9cc3e8" stroke-width="1"/>
<rect x="1040" y="257" width="1" height="41" fill="#5a5a5a"/>
<rect x="1038" y="262" width="5" height="30" fill="#4a0b0b"/>
<rect x="1039" y="263" width="3" height="28" fill="#050000"/>
<rect x="1046" y="280" width="1" height="25" fill="#5a5a5a"/>
<rect x="1044" y="292" width="5" height="3" fill="#4a0b0b"/>
<rect x="1045" y="293" width="3" height="1" fill="#050000"/>
<rect x="1052" y="299" width="1" height="42" fill="#5a5a5a"/>
<rect x="1050" y="303" width="5" height="38" fill="#4a0b0b"/>
<rect x="1051" y="304" width="3" height="36" fill="#050000"/>
<rect x="1058" y="349" width="1" height="35" fill="#5a5a5a"/>
<rect x="1056" y="353" width="5" height="28" fill="#4a0b0b"/>
<rect x="1057" y="354" width="3" height="26" fill="#050000"/>
<rect x="1064" y="338" width="1" height="10" fill="#5a5a5a"/>
<rect x="1064" y="383" width="1" height="2" fill="#5a5a5a"/>
<rect x="1062.5" y="348.5" width="4" height="34" fill="none" stroke="#9cc3e8" stroke-width="1"/>
<rect x="1070" y="328" width="1" height="6" fill="#5a5a5a"/>
<rect x="1068.5" y="334.5" width="4" height="13" fill="#a9c9ef" stroke="#1f5a36" stroke-width="1"/>
<rect x="1076" y="337" width="1" height="3" fill="#5a5a5a"/>
<rect x="1076" y="355" width="1" height="10" fill="#5a5a5a"/>
<rect x="1074.5" y="340.5" width="4" height="14" fill="none" stroke="#9cc3e8" stroke-width="1"/>
<rect x="1082" y="297" width="1" height="17" fill="#5a5a5a"/>
<rect x="1082" y="338" width="1" height="5" fill="#5a5a5a"/>
<rect x="1080.5" y="314.5" width="4" height="23" fill="none" stroke="#9cc3e8" stroke-width="1"/>
<rect x="1088" y="284" width="1" height="11" fill="#5a5a5a"/>
<rect x="1088" y="313" width="1" height="6" fill="#5a5a5a"/>
<rect x="1086.5" y="295.5" width="4" height="17" fill="none" stroke="#9cc3e8" stroke-width="1"/>
<rect x="1094" y="279" width="1" height="20" fill="#5a5a5a"/>
<rect x="1092" y="289" width="5" height="1" fill="#9cc3e8"/>
<rect x="1100" y="279" width="1" height="28" fill="#5a5a5a"/>
<rect x="1098" y="287" width="5" height="10" fill="#4a0b0b"/>
<rect x="1099" y="288" width="3" height="8" fill="#050000"/>
<rect x="1106" y="284" width="1" height="38" fill="#5a5a5a"/>
<rect x="1104" y="297" width="5" height="16" fill="#4a0b0b"/>
<rect x="1105" y="298" width="3" height="14" fill="#050000"/>
<rect x="1112" y="299" width="1" height="14" fill="#5a5a5a"/>
<rect x="1110" y="311" width="5" height="2" fill="#1f5a36"/>
<rect x="1118" y="291" width="1" height="8" fill="#5a5a5a"/>
<rect x="1118" y="311" width="1" height="3" fill="#5a5a5a"/>
<rect x="1116.5" y="299.5" width="4" height="11" fill="none" stroke="#9cc3e8" stroke-width="1"/>
<rect x="1124" y="299" width="1" height="25" fill="#5a5a5a"/>
<rect x="1122" y="302" width="5" height="21" fill="#4a0b0b"/>
<rect x="1123" y="303" width="3" height="19" fill="#050000"/>
<rect x="1130" y="304" width="1" height="4" fill="#5a5a5a"/>
<rect x="1130" y="319" width="1" height="9" fill="#5a5a5a"/>
<rect x="1128.5" y="308.5" width="4" height="10" fill="none" stroke="#9cc3e8" stroke-width="1"/>
<rect x="1136" y="284" width="1" height="1" fill="#5a5a5a"/>
<rect x="1136" y="306" width="1" height="2" fill="#5a5a5a"/>
<rect x="1134.5" y="285.5" width="4" height="20" fill="none" stroke="#9cc3e8" stroke-width="1"/>
</g>
</g>
<rect class="crisp" x="248" y="149" width="1" height="20" fill="#333"/>
<rect x="249.7" y="149.6" width="6.4" height="8" fill="#2e8b57"/>
<polygon points="256.0,150.4 263.9,150.4 260.1,154.7 263.9,159.0 256.0,159.0" fill="#2e8b57"/>
<rect x="255.8" y="150.0" width="0.5" height="8.6" fill="#6fb890"/>
<rect class="crisp" x="998" y="485" width="1" height="20" fill="#333"/>
<rect x="999.8" y="485.1" width="6.4" height="8" fill="#2e8b57"/>
<polygon points="1006.1,485.9 1014.0,485.9 1010.2,490.2 1014.0,494.5 1006.1,494.5" fill="#2e8b57"/>
<rect x="1005.9" y="485.5" width="0.5" height="8.6" fill="#6fb890"/>
<circle cx="1100.5" cy="261.5" r="7.8" fill="#178df6"/>
<text x="1100.6" y="265.6" text-anchor="middle" font-size="10.4" fill="#fff" stroke="#fff" stroke-width="0.3">P</text>
<line class="crisp" x1="8" y1="284.5" x2="1168" y2="284.5" stroke="#9cc3e8" stroke-width="1" stroke-dasharray="2 1"/>
<g class="crisp" fill="#555555">
<rect x="1168" y="58" width="1" height="554"/>
<rect x="8" y="611" width="1161" height="1"/>
<rect x="1169" y="579" width="3" height="1"/>
<rect x="1169" y="530" width="3" height="1"/>
<rect x="1169" y="481" width="3" height="1"/>
<rect x="1169" y="432" width="3" height="1"/>
<rect x="1169" y="383" width="3" height="1"/>
<rect x="1169" y="334" width="3" height="1"/>
<rect x="1169" y="285" width="3" height="1"/>
<rect x="1169" y="236" width="3" height="1"/>
<rect x="1169" y="187" width="3" height="1"/>
<rect x="1169" y="138" width="3" height="1"/>
<rect x="1169" y="89" width="3" height="1"/>
<rect x="32" y="612" width="1" height="3"/>
<rect x="158" y="612" width="1" height="3"/>
<rect x="296" y="612" width="1" height="3"/>
<rect x="422" y="612" width="1" height="3"/>
<rect x="554" y="612" width="1" height="3"/>
<rect x="686" y="612" width="1" height="3"/>
<rect x="800" y="612" width="1" height="3"/>
<rect x="932" y="612" width="1" height="3"/>
<rect x="1052" y="612" width="1" height="3"/>
<rect x="1130" y="612" width="1" height="3"/>
</g>
<text class="ax" x="1174.4" y="583.8">33.00</text>
<text class="ax" x="1174.4" y="534.8">34.00</text>
<text class="ax" x="1174.4" y="485.8">35.00</text>
<text class="ax" x="1174.4" y="436.8">36.00</text>
<text class="ax" x="1174.4" y="387.8">37.00</text>
<text class="ax" x="1174.4" y="338.8">38.00</text>
<text class="ax" x="1174.4" y="240.8">40.00</text>
<text class="ax" x="1174.4" y="191.8">41.00</text>
<text class="ax" x="1174.4" y="142.8">42.00</text>
<text class="ax" x="1174.4" y="93.8">43.00</text>
<text class="ax" x="31.8" y="626" text-anchor="middle">Jul</text>
<text class="ax" x="157.8" y="626" text-anchor="middle">Ago</text>
<text class="ax" x="295.8" y="626" text-anchor="middle">Set</text>
<text class="ax" x="421.8" y="626" text-anchor="middle">Out</text>
<text class="ax" x="553.8" y="626" text-anchor="middle">Nov</text>
<text class="ax" x="685.8" y="626" text-anchor="middle">Dez</text>
<text class="ax" x="799.8" y="626" text-anchor="middle" font-weight="bold">2018</text>
<text class="ax" x="931.8" y="626" text-anchor="middle">Fev</text>
<text class="ax" x="1051.8" y="626" text-anchor="middle">Mar</text>
<text class="ax" x="1129.8" y="626" text-anchor="middle">20</text>
<rect class="crisp" x="1168" y="141.0" width="38" height="16.0" fill="#f0b832"/>
<rect class="crisp" x="1169" y="148" width="2" height="1" fill="#000"/>
<text class="tag" x="1174.4" y="153.0" fill="#000">41.81</text>
<rect class="crisp" x="1168" y="277.0" width="38" height="16.0" fill="#9fc2e6"/>
<rect class="crisp" x="1169" y="284" width="2" height="1" fill="#000"/>
<text class="tag" x="1174.4" y="289.0" fill="#000">39.03</text>
<rect class="crisp" x="1168" y="363.0" width="38" height="16.0" fill="#f0b832"/>
<rect class="crisp" x="1169" y="370" width="2" height="1" fill="#000"/>
<text class="tag" x="1174.4" y="375.0" fill="#000">37.28</text>
<rect class="crisp" x="1168" y="379.0" width="38" height="16.0" fill="#0000ff"/>
<rect class="crisp" x="1169" y="386" width="2" height="1" fill="#fff"/>
<text class="tag" x="1174.4" y="391.0" fill="#fff">37.19</text>
<text class="h1" x="16.1" y="22.0" textLength="59.8" lengthAdjust="spacingAndGlyphs">Published</text>
<text class="h1" x="80.4" y="22.0" textLength="15.3" lengthAdjust="spacingAndGlyphs">on</text>
<text class="h1" x="99.0" y="22.0" textLength="85.8" lengthAdjust="spacingAndGlyphs">Investing.com,</text>
<text class="h1" x="189.4" y="22.0" textLength="76.6" lengthAdjust="spacingAndGlyphs">21/Mar/2018</text>
<text class="h1" x="270.7" y="22.0" textLength="5.4" lengthAdjust="spacingAndGlyphs">-</text>
<text class="h1" x="280.4" y="22.0" textLength="50.8" lengthAdjust="spacingAndGlyphs">18:25:30</text>
<text class="h1" x="336.1" y="22.0" textLength="34.3" lengthAdjust="spacingAndGlyphs">GMT,</text>
<text class="h1" x="374.9" y="22.0" textLength="54.9" lengthAdjust="spacingAndGlyphs">Powered</text>
<text class="h1" x="434.0" y="22.0" textLength="14.8" lengthAdjust="spacingAndGlyphs">by</text>
<text class="h1" x="453.3" y="22.0" textLength="80.4" lengthAdjust="spacingAndGlyphs">TradingView.</text>
<text class="h2" x="15.8" y="44.3" textLength="75.3" lengthAdjust="spacingAndGlyphs">Koninklijke</text>
<text class="h2" x="94.4" y="44.3" textLength="40.9" lengthAdjust="spacingAndGlyphs">Vopak</text>
<text class="h2" x="139.8" y="44.3" textLength="21.4" lengthAdjust="spacingAndGlyphs">NV,</text>
<text class="h2" x="165.3" y="44.3" textLength="59.7" lengthAdjust="spacingAndGlyphs">Holanda,</text>
<text class="h2" x="229.0" y="44.3" textLength="129.0" lengthAdjust="spacingAndGlyphs">Amesterdão:VOPA,</text>
<text class="h2" x="362.5" y="44.3" textLength="9.2" lengthAdjust="spacingAndGlyphs">D</text>
<text class="ma" x="18.0" y="78.0" textLength="19.7" lengthAdjust="spacingAndGlyphs">MA</text>
<text class="ma" x="42.2" y="78.0" textLength="23.9" lengthAdjust="spacingAndGlyphs">(50,</text>
<text class="ma" x="69.9" y="78.0" textLength="38.2" lengthAdjust="spacingAndGlyphs">close,</text>
<text class="ma" x="111.5" y="78.0" textLength="12.8" lengthAdjust="spacingAndGlyphs">0)</text>
<text x="21.5" y="595.3" font-size="21.2" font-weight="bold" fill="#0a0a0a" stroke="#0a0a0a" stroke-width="0.7" stroke-linejoin="round">I<tspan x="27.3" font-size="22" stroke-width="0.9" textLength="83.8" lengthAdjust="spacingAndGlyphs">nvesting</tspan></text>
<text x="111.3" y="595.3" font-size="14.6" fill="#222" letter-spacing="-0.45">.com</text>
<rect x="81.2" y="580.05" width="5" height="3.45" fill="#fff"/>
<polygon points="80.9,582.6 82.0,579.0 85.9,577.6 85.0,581.2" fill="#f7a01d"/>
</svg></body></html>
